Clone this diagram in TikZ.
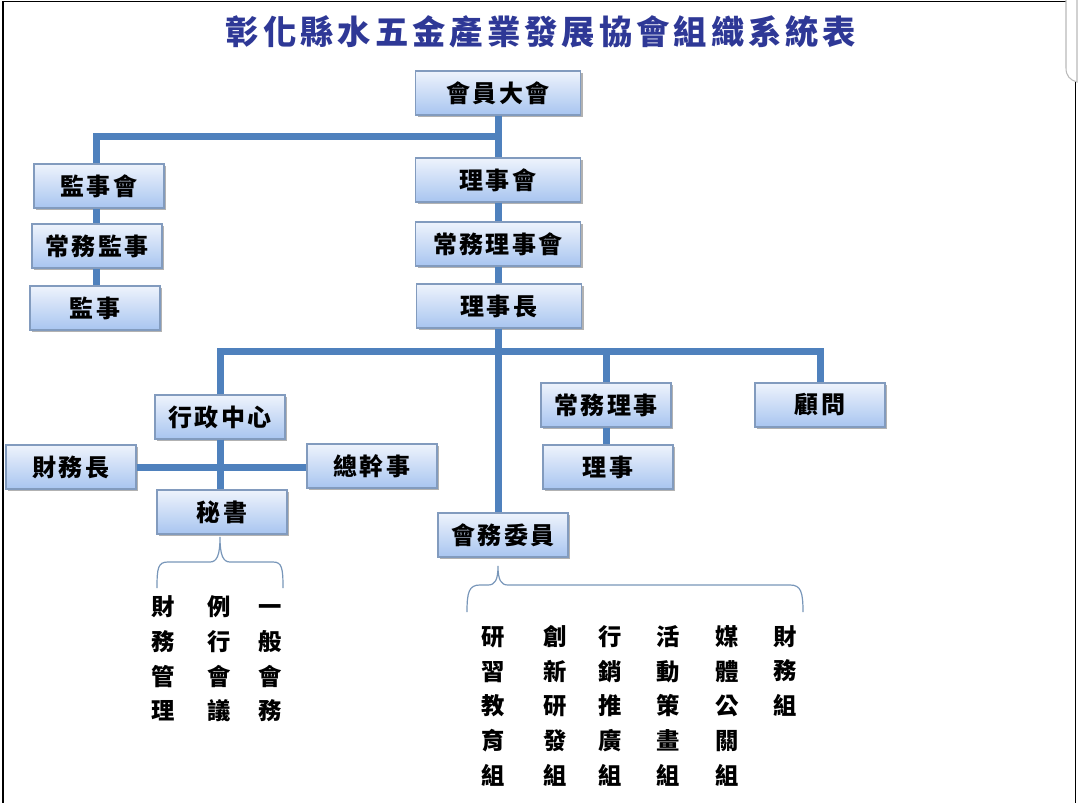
\documentclass[tikz,border=0pt]{standalone}
\usepackage{fontspec}
\newfontfamily\cjk{Noto Sans CJK TC}
\usetikzlibrary{shadows}
\definecolor{linkblue}{RGB}{79,129,189}
\definecolor{titleblue}{RGB}{46,56,150}
\definecolor{boxtop}{RGB}{238,243,252}
\definecolor{boxbot}{RGB}{168,197,240}
\definecolor{boxedge}{RGB}{130,155,190}
\definecolor{bracec}{RGB}{120,150,185}
\tikzset{
 orgbox/.style={draw=boxedge, line width=0.8pt, top color=boxtop, bottom color=boxbot,
   minimum height=33pt, minimum width=97.5pt, inner sep=0pt,
   font=\cjk\bfseries\fontsize{18}{20}\selectfont\addfontfeature{LetterSpace=10},
   drop shadow={opacity=0.3, shadow xshift=1.5pt, shadow yshift=-1.5pt, fill=black}},
 widebox/.style={orgbox, minimum width=123.75pt},
 link/.style={draw=linkblue, line width=5.25pt, line join=miter},
 bracepath/.style={draw=bracec, line width=0.9pt},
 colt/.style={font=\cjk\bfseries\fontsize{17.5}{26}\selectfont, align=center, inner sep=0pt},
}
\begin{document}
\begin{tikzpicture}[x=0.75pt,y=-0.75pt]
\useasboundingbox (0,0) rectangle (1079,803);
% frame
\draw[line width=1.1pt] (3,803) -- (3,1.5) -- (1066,1.5);
\draw[line width=1.4pt] (1075.5,82) -- (1075.5,803);
\draw[gray!55, line width=0.8pt] (1066,0) -- (1066,68) .. controls (1066,76) and (1070,80) .. (1077,82) -- (1077,0);
% title
\node[font=\cjk\bfseries\fontsize{25}{28}\selectfont\addfontfeature{LetterSpace=12}, text=titleblue, inner sep=0pt] (title) at (541,32) {彰化縣水五金產業發展協會組織系統表};
% boxes
\node[widebox] (gm) at (498,93) {會員大會};
\node[orgbox] (sup1) at (99,186) {監事會};
\node[orgbox] (sup2) at (97,246) {常務監事};
\node[orgbox] (sup3) at (95,308) {監事};
\node[widebox] (bd) at (498,180) {理事會};
\node[widebox] (sbd) at (498,244) {常務理事會};
\node[widebox] (chair) at (499,306) {理事長};
\node[orgbox] (admin) at (220,417) {行政中心};
\node[orgbox] (fin) at (71,467) {財務長};
\node[orgbox] (gs) at (372,466) {總幹事};
\node[orgbox] (sec) at (222,512) {秘書};
\node[orgbox] (comm) at (503,535) {會務委員};
\node[orgbox] (sdir) at (606,405) {常務理事};
\node[orgbox] (dir) at (608,467) {理事};
\node[orgbox] (adv) at (820,405) {顧問};
% junctions
\coordinate (jA) at (96,136);
\coordinate (jB) at (498,136);
\coordinate (jC) at (220,351);
\coordinate (jD) at (820,351);
\coordinate (jE) at (606,351);
\coordinate (lx) at (96,0);
% connectors
\draw[link] (gm.south) -- (bd.north);
\draw[link] (sup1.north -| lx) -- (jA) -- (jB);
\draw[link] (sup1.south -| lx) -- (sup2.north -| lx);
\draw[link] (sup2.south -| lx) -- (sup3.north -| lx);
\draw[link] (bd.south) -- (sbd.north);
\draw[link] (sbd.south) -- (sbd.south |- chair.north);
\draw[link] (chair.south -| gm.south) -- (gm.south |- comm.north);
\draw[link] (admin.north) -- (jC) -- (jD) -- (adv.north);
\draw[link] (jE) -- (sdir.north -| jE);
\draw[link] (sdir.south -| jE) -- (dir.north -| jE);
\draw[link] (admin.south) -- (admin.south |- sec.north);
\draw[link] (fin.east) -- (fin.east -| gs.west);
% braces
\draw[bracepath] (157,588) .. controls (157,568) and (158,562) .. (168,562) -- (210,562) .. controls (217,562) and (220,555) .. (220,537) .. controls (220,555) and (223,562) .. (230,562) -- (273,562) .. controls (282,562) and (283,568) .. (283,588);
\draw[bracepath] (467,612) .. controls (467,592) and (469,585) .. (480,585) -- (488,585) .. controls (495,585) and (498,580) .. (498,566) .. controls (498,580) and (501,585) .. (508,585) -- (790,585) .. controls (801,585) and (803,592) .. (803,612);
% column texts
\node[colt] (c1) at (163,661) {\strut 財\\務\\管\\理\strut};
\node[colt] (c2) at (219,661) {\strut 例\\行\\會\\議\strut};
\node[colt] (c3) at (270,661) {\strut 一\\般\\會\\務\strut};
\node[colt] (d1) at (493,708) {\strut 研\\習\\教\\育\\組\strut};
\node[colt] (d2) at (555,708) {\strut 創\\新\\研\\發\\組\strut};
\node[colt] (d3) at (610,708) {\strut 行\\銷\\推\\廣\\組\strut};
\node[colt] (d4) at (668,708) {\strut 活\\動\\策\\畫\\組\strut};
\node[colt] (d5) at (727,708) {\strut 媒\\體\\公\\關\\組\strut};
\node[colt] (d6) at (785,673) {\strut 財\\務\\組\strut};
\end{tikzpicture}
\end{document}
